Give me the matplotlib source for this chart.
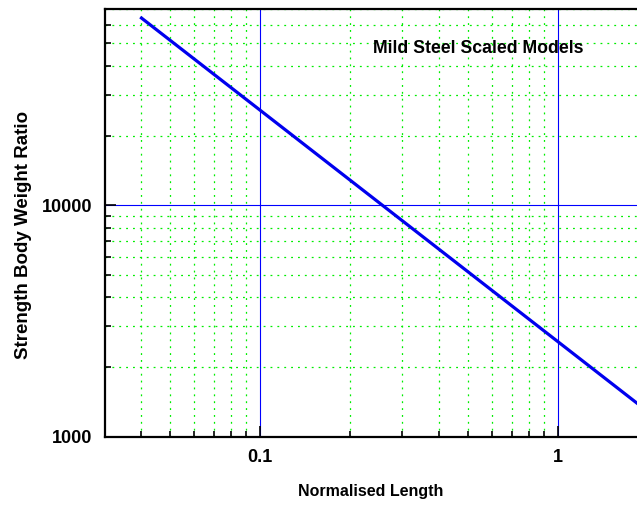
import numpy as np
import matplotlib
matplotlib.use('Agg')
import matplotlib.pyplot as plt
from matplotlib.ticker import LogLocator, FixedLocator, NullFormatter

plt.rcParams['font.family'] = ['Liberation Sans', 'DejaVu Sans']
plt.rcParams['font.weight'] = 'bold'

# normalised length vs strength/body weight ratio
length = [0.04, 0.1, 0.2573, 1.0, 1.84]
ratio = [64300, 25730, 10000, 2573, 1398]

fig = plt.figure(figsize=(6.37, 5.08), dpi=100)
ax = fig.add_axes([0.165, 0.140, 0.835, 0.843])

ax.set_xscale('log')
ax.set_yscale('log')
ax.set_xlim(0.0302, 1.84)
ax.set_ylim(1000, 70600)

ax.xaxis.set_major_locator(FixedLocator([0.1, 1]))
ax.yaxis.set_major_locator(FixedLocator([1000, 10000]))
ax.xaxis.set_minor_locator(LogLocator(base=10, subs=np.arange(2, 10)))
ax.yaxis.set_minor_locator(LogLocator(base=10, subs=np.arange(2, 10)))
ax.xaxis.set_minor_formatter(NullFormatter())
ax.yaxis.set_minor_formatter(NullFormatter())
ax.set_xticklabels(['0.1', '1'])
ax.set_yticklabels(['1000', '10000'])

ax.grid(True, which='minor', color='#00ee00', linestyle=(0, (1.5, 4)), linewidth=0.9)
ax.grid(True, which='major', color='#0000ff', linestyle='-', linewidth=0.8)
ax.set_axisbelow(True)

ax.plot(length, ratio, color='#0000ee', lw=2.3, zorder=3)

ax.tick_params(which='both', direction='in', top=False, right=False, labelsize=13, color='black')
ax.tick_params(which='major', length=8, width=1.2, pad=9)
ax.tick_params(which='minor', length=4, width=1.2)
for s in ['left', 'bottom', 'top']:
    ax.spines[s].set_linewidth(1.6)
ax.spines['right'].set_visible(False)

ax.set_xlabel('Normalised Length', fontsize=11.5, fontweight='bold', labelpad=13)
ax.set_ylabel('Strength Body Weight Ratio', fontsize=13.5, fontweight='bold')
ax.yaxis.set_label_coords(-0.137, 0.472)
ax.text(0.503, 0.907, 'Mild Steel Scaled Models', transform=ax.transAxes,
        fontsize=12.7, fontweight='bold', ha='left', va='center')

fig.savefig('out.png', dpi=100)
